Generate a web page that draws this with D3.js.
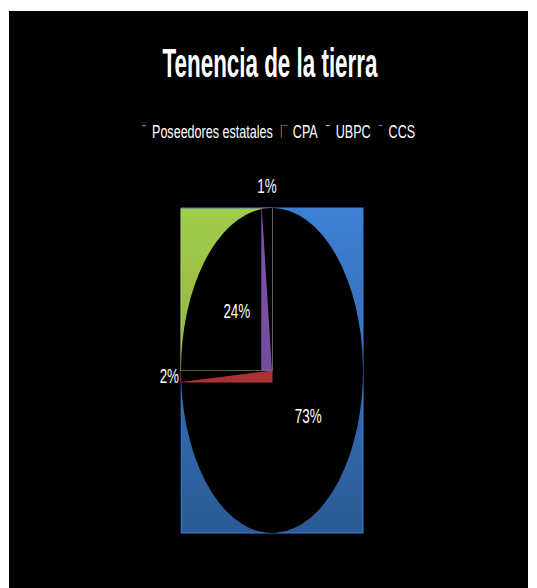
<!DOCTYPE html>
<html>
<head>
<meta charset="utf-8">
<script src="https://cdn.jsdelivr.net/npm/d3@7"></script>
<style>
  html, body { margin: 0; padding: 0; background: #fff; }
  svg { display: block; }
  text { font-family: "Liberation Sans", Arial, sans-serif; fill: #fff; }
</style>
</head>
<body>
<svg id="chart"></svg>
<script>
// data
var categories = ["Poseedores estatales", "CPA", "UBPC", "CCS"]
var values = [73, 2, 24, 1]
var pctLabels = ["73%", "2%", "24%", "1%"]
var colorTop = ["#3d80d4", "#b8393a", "#a3cc4c", "#8052aa"]
var colorBottom = ["#2b5b95", "#9c2b2b", "#7f9f37", "#6a4493"]
var title = "Tenencia de la tierra"

var width = 537
var height = 588

var svg = d3.select('#chart').attr('width', width).attr('height', height)

// black chart area on a white page
svg.append('rect')
  .attr('x', 9).attr('y', 11)
  .attr('width', 519).attr('height', height - 11)
  .attr('fill', '#000')

// condensed text at x,y (the original uses a narrow font)
function narrowText(parent, x, y, size, anchor, str, squeeze) {
  return parent.append('text')
    .attr('transform', 'translate(' + x + ',' + y + ') scale(' + squeeze + ',1)')
    .attr('font-size', size)
    .attr('text-anchor', anchor)
    .text(str)
}

// title, squeezed to the width it has in the picture
var titleText = svg.append('text')
  .attr('font-size', 40)
  .attr('font-weight', 'bold')
  .attr('text-anchor', 'middle')
  .text(title)
var titleScale = 215 / titleText.node().getComputedTextLength()
titleText.attr('transform', 'translate(270,77) scale(' + titleScale + ',1)')

// pie box (the plot got stretched into an ellipse)
var cx = 272, cy = 370.5, rx = 91, ry = 162.5

var defs = svg.append('defs')
categories.forEach(function (c, i) {
  var g = defs.append('linearGradient')
    .attr('id', 'grad' + i)
    .attr('gradientUnits', 'userSpaceOnUse')
    .attr('x1', 0).attr('x2', 0)
    .attr('y1', cy - ry).attr('y2', cy + ry)
  g.append('stop').attr('offset', 0).attr('stop-color', colorTop[i])
  g.append('stop').attr('offset', 1).attr('stop-color', colorBottom[i])
})

var pie = d3.pie().sort(null).value(function (d) { return d })
var arcs = pie(values)

// screen angle (clockwise from 12 o'clock) -> ellipse parameter angle,
// kept on the same turn as the input angle
function toParam(a) {
  var p = Math.atan2(Math.sin(a) / rx, Math.cos(a) / ry)
  return p + 2 * Math.PI * Math.round((a - p) / (2 * Math.PI))
}
function pointAt(a) {
  var p = toParam(a)
  return [cx + rx * Math.sin(p), cy - ry * Math.cos(p)]
}

var R = 100
var wedge = d3.arc().innerRadius(0).outerRadius(R)

var sliceGroup = svg.append('g').attr('class', 'slices')

arcs.forEach(function (d, i) {
  // bounding box of the slice: centre, both ends and any extreme the slice passes
  var pts = [[cx, cy], pointAt(d.startAngle), pointAt(d.endAngle)]
  ;[0, Math.PI / 2, Math.PI, 3 * Math.PI / 2].forEach(function (q) {
    if (q > d.startAngle + 1e-9 && q < d.endAngle - 1e-9) pts.push(pointAt(q))
  })
  var x0 = d3.min(pts, function (p) { return p[0] }),
    x1 = d3.max(pts, function (p) { return p[0] }),
    y0 = d3.min(pts, function (p) { return p[1] }),
    y1 = d3.max(pts, function (p) { return p[1] })

  var g = sliceGroup.append('g').attr('class', 'slice-' + i)
  g.append('rect')
    .attr('x', x0).attr('y', y0)
    .attr('width', x1 - x0).attr('height', y1 - y0)
    .attr('fill', 'url(#grad' + i + ')')
    .attr('stroke', colorTop[i])
    .attr('stroke-width', 1)

  // the wedge itself renders black
  g.append('path')
    .attr('d', wedge({ startAngle: toParam(d.startAngle), endAngle: toParam(d.endAngle) }))
    .attr('transform', 'translate(' + cx + ',' + cy + ') scale(' + (rx / R) + ',' + (ry / R) + ')')
    .attr('fill', '#000')
})

// data labels
var labelGroup = svg.append('g').attr('class', 'labels')
arcs.forEach(function (d, i) {
  var mid = (d.startAngle + d.endAngle) / 2
  var share = d.value / d3.sum(values)
  if (share >= 0.05) {
    narrowText(labelGroup,
      cx + rx * 0.53 * Math.sin(mid),
      cy - ry * 0.48 * Math.cos(mid) + 1,
      21, 'middle', pctLabels[i], 0.64)
  } else {
    var e = pointAt(mid)
    if (Math.abs(Math.sin(mid)) > Math.abs(Math.cos(mid))) {
      narrowText(labelGroup, Math.sin(mid) < 0 ? e[0] - 2 : e[0] + 2, e[1] + 7,
        21, Math.sin(mid) < 0 ? 'end' : 'start', pctLabels[i], 0.64)
    } else {
      narrowText(labelGroup, e[0], Math.cos(mid) > 0 ? e[1] - 15 : e[1] + 22,
        21, 'middle', pctLabels[i], 0.64)
    }
  }
})

// legend
var legend = svg.append('g').attr('class', 'legend')
var lx = 142, ly = 138, squeeze = 0.68
categories.forEach(function (c, i) {
  if (i === 1) {
    legend.append('path')
      .attr('d', 'M' + (lx + 0.5) + ',' + (ly) + 'V' + (ly - 12.5) + 'H' + (lx + 7))
      .attr('fill', 'none')
      .attr('stroke', colorTop[i]).attr('stroke-width', 1.2)
    lx += 12
  } else {
    legend.append('line')
      .attr('x1', lx).attr('x2', lx + 4)
      .attr('y1', ly - 12.5).attr('y2', ly - 12.5)
      .attr('stroke', colorTop[i]).attr('stroke-width', 1.2)
    lx += 10
  }
  var t = narrowText(legend, lx, ly, 18.5, 'start', c, squeeze)
  lx += t.node().getComputedTextLength() * squeeze + 8
})
</script>
</body>
</html>
